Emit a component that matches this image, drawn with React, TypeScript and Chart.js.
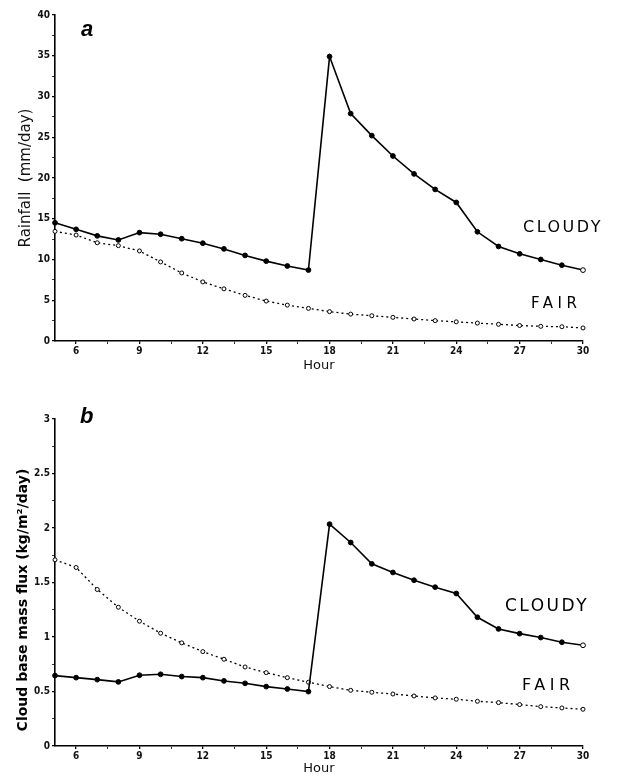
import React, { useEffect, useRef } from "react";
import { Chart, registerables } from "chart.js";

Chart.register(...registerables);

// ---- data ----
const hours = [5, 6, 7, 8, 9, 10, 11, 12, 13, 14, 15, 16, 17, 18, 19, 20, 21, 22, 23, 24, 25, 26, 27, 28, 29, 30];
const rainCloudy = [14.5, 13.7, 12.9, 12.4, 13.3, 13.1, 12.55, 12.0, 11.3, 10.5, 9.8, 9.2, 8.7, 34.9, 27.9, 25.2, 22.7, 20.5, 18.6, 17.0, 13.4, 11.6, 10.7, 10.0, 9.3, 8.7];
const rainFair = [13.45, 13.0, 12.05, 11.7, 11.05, 9.7, 8.35, 7.25, 6.4, 5.6, 4.9, 4.4, 4.0, 3.6, 3.3, 3.1, 2.9, 2.7, 2.5, 2.35, 2.2, 2.05, 1.9, 1.8, 1.75, 1.6];
const fluxCloudy = [0.646, 0.627, 0.609, 0.588, 0.649, 0.658, 0.637, 0.627, 0.597, 0.575, 0.545, 0.523, 0.499, 2.035, 1.867, 1.671, 1.592, 1.521, 1.457, 1.399, 1.181, 1.074, 1.031, 0.995, 0.952, 0.924];
const fluxFair = [1.708, 1.638, 1.436, 1.273, 1.145, 1.035, 0.946, 0.866, 0.796, 0.725, 0.673, 0.627, 0.585, 0.545, 0.511, 0.493, 0.477, 0.459, 0.441, 0.429, 0.41, 0.398, 0.38, 0.361, 0.349, 0.337];

const xTickValues = [6, 7.5, 9, 10.5, 12, 13.5, 15, 16.5, 18, 19.5, 21, 22.5, 24, 25.5, 27, 28.5, 30];
const xLabelStep = 3;
const rainTickValues = [0, 2.5, 5, 7.5, 10, 12.5, 15, 17.5, 20, 22.5, 25, 27.5, 30, 32.5, 35, 37.5, 40];
const rainLabelStep = 5;
const fluxTickValues = [0, 0.25, 0.5, 0.75, 1, 1.25, 1.5, 1.75, 2, 2.25, 2.5, 2.75, 3];
const fluxLabelStep = 0.5;

const isMultiple = (v: number, step: number) => Math.abs(v / step - Math.round(v / step)) < 1e-6;

const notesPlugin = {
  id: "notes",
  afterDraw(chart: any, _args: any, opts: any) {
    const ctx = chart.ctx;
    for (const n of opts.items || []) {
      ctx.save();
      ctx.font = n.font;
      ctx.fillStyle = "#000";
      (ctx as any).letterSpacing = n.spacing || "0px";
      ctx.textAlign = n.align || "left";
      ctx.textBaseline = "middle";
      ctx.translate(n.x, n.y);
      if (n.rotate) ctx.rotate(n.rotate);
      ctx.fillText(n.text, 0, 0);
      ctx.restore();
    }
  },
};

const tickFont = { family: "'DejaVu Sans Condensed', 'DejaVu Sans'", size: 10, weight: "bold" as const };

function makeConfig(
  cloudy: number[],
  fair: number[],
  yTicks: number[],
  yStep: number,
  yMax: number,
  yTitle: string | null,
  padding: any,
  xAxisHeight: number,
  notes: any[]
): any {
  const n = hours.length;
  return {
    type: "line",
    data: {
      datasets: [
        {
          label: "CLOUDY",
          data: hours.map((h, i) => ({ x: h, y: cloudy[i] })),
          borderColor: "#000",
          borderWidth: 1.6,
          pointRadius: 2.4,
          pointBorderWidth: 1,
          pointBorderColor: "#000",
          pointBackgroundColor: hours.map((_, i) => (i === n - 1 ? "#fff" : "#000")),
          tension: 0,
          clip: false,
        },
        {
          label: "FAIR",
          data: hours.map((h, i) => ({ x: h, y: fair[i] })),
          borderColor: "#000",
          borderWidth: 1.3,
          borderDash: [2, 3],
          pointRadius: 2,
          pointBorderWidth: 1,
          pointBorderColor: "#000",
          pointBackgroundColor: "#fff",
          tension: 0,
          clip: false,
        },
      ],
    },
    options: {
      animation: false,
      responsive: false,
      devicePixelRatio: 1,
      layout: { padding },
      plugins: {
        legend: { display: false },
        tooltip: { enabled: false },
        notes: { items: notes },
      },
      scales: {
        x: {
          type: "linear",
          min: 5,
          max: 30,
          afterBuildTicks: (s: any) => {
            s.ticks = xTickValues.map((v) => ({ value: v }));
          },
          afterFit: (s: any) => {
            s.height = xAxisHeight;
          },
          grid: {
            drawOnChartArea: false,
            drawTicks: true,
            tickLength: 3,
            color: "#000",
            lineWidth: (c: any) => (c.tick && isMultiple(c.tick.value, xLabelStep) ? 1.3 : 0.8),
          },
          border: { display: true, color: "#000", width: 1.6 },
          ticks: {
            autoSkip: false,
            maxRotation: 0,
            padding: 1,
            color: "#111",
            font: tickFont,
            callback: (v: any) => (isMultiple(v, xLabelStep) ? String(v) : ""),
          },
          title: {
            display: true,
            text: "Hour",
            color: "#111",
            padding: 0,
            font: { family: "'DejaVu Sans'", size: 13 },
          },
        },
        y: {
          type: "linear",
          min: 0,
          max: yMax,
          afterBuildTicks: (s: any) => {
            s.ticks = yTicks.map((v) => ({ value: v }));
          },
          afterFit: (s: any) => {
            s.width = 55 - padding.left;
          },
          grid: {
            drawOnChartArea: false,
            drawTicks: true,
            tickLength: 3,
            color: "#000",
            lineWidth: (c: any) => (c.tick && isMultiple(c.tick.value, yStep) ? 1.3 : 0.8),
          },
          border: { display: true, color: "#000", width: 1.6 },
          ticks: {
            autoSkip: false,
            padding: 2,
            color: "#111",
            font: tickFont,
            callback: (v: any) => (isMultiple(v, yStep) ? String(v) : ""),
          },
          title: {
            display: !!yTitle,
            text: yTitle || "",
            color: "#111",
            padding: 0,
            font: { family: "'DejaVu Sans'", size: 15 },
          },
        },
      },
    },
    plugins: [notesPlugin],
  };
}

export default function App() {
  const refA = useRef<HTMLCanvasElement>(null);
  const refB = useRef<HTMLCanvasElement>(null);

  useEffect(() => {
    const cA = new Chart(
      refA.current as HTMLCanvasElement,
      makeConfig(
        rainCloudy,
        rainFair,
        rainTickValues,
        rainLabelStep,
        40,
        "Rainfall  (mm/day)",
        { left: 17, right: 34, top: 15, bottom: 12 },
        32,
        [
          { text: "a", x: 81, y: 30, font: "italic bold 22px 'Liberation Sans'" },
          { text: "CLOUDY", x: 523, y: 228, font: "16px 'DejaVu Sans'", spacing: "2.5px" },
          { text: "FAIR", x: 531, y: 304, font: "15px 'DejaVu Sans'", spacing: "4.5px" },
        ]
      )
    );
    const cB = new Chart(
      refB.current as HTMLCanvasElement,
      makeConfig(
        fluxCloudy,
        fluxFair,
        fluxTickValues,
        fluxLabelStep,
        3,
        null,
        { left: 18, right: 34, top: 34, bottom: 0 },
        30,
        [
          { text: "b", x: 80, y: 32, font: "italic bold 22px 'Liberation Sans'" },
          { text: "CLOUDY", x: 505, y: 222, font: "17px 'DejaVu Sans'", spacing: "2.5px" },
          { text: "FAIR", x: 522, y: 301, font: "16px 'DejaVu Sans'", spacing: "4.5px" },
          {
            text: "Cloud base mass flux (kg/m²/day)",
            x: 23,
            y: 215,
            rotate: -Math.PI / 2,
            align: "center",
            font: "bold 14px 'DejaVu Sans'",
          },
        ]
      )
    );
    return () => {
      cA.destroy();
      cB.destroy();
    };
  }, []);

  return (
    <div style={{ position: "absolute", left: 0, top: 0, width: 617, height: 776, background: "#fff" }}>
      <canvas ref={refA} width={617} height={385} style={{ position: "absolute", left: 0, top: 0, width: 617, height: 385 }} />
      <canvas ref={refB} width={617} height={391} style={{ position: "absolute", left: 0, top: 385, width: 617, height: 391 }} />
    </div>
  );
}
